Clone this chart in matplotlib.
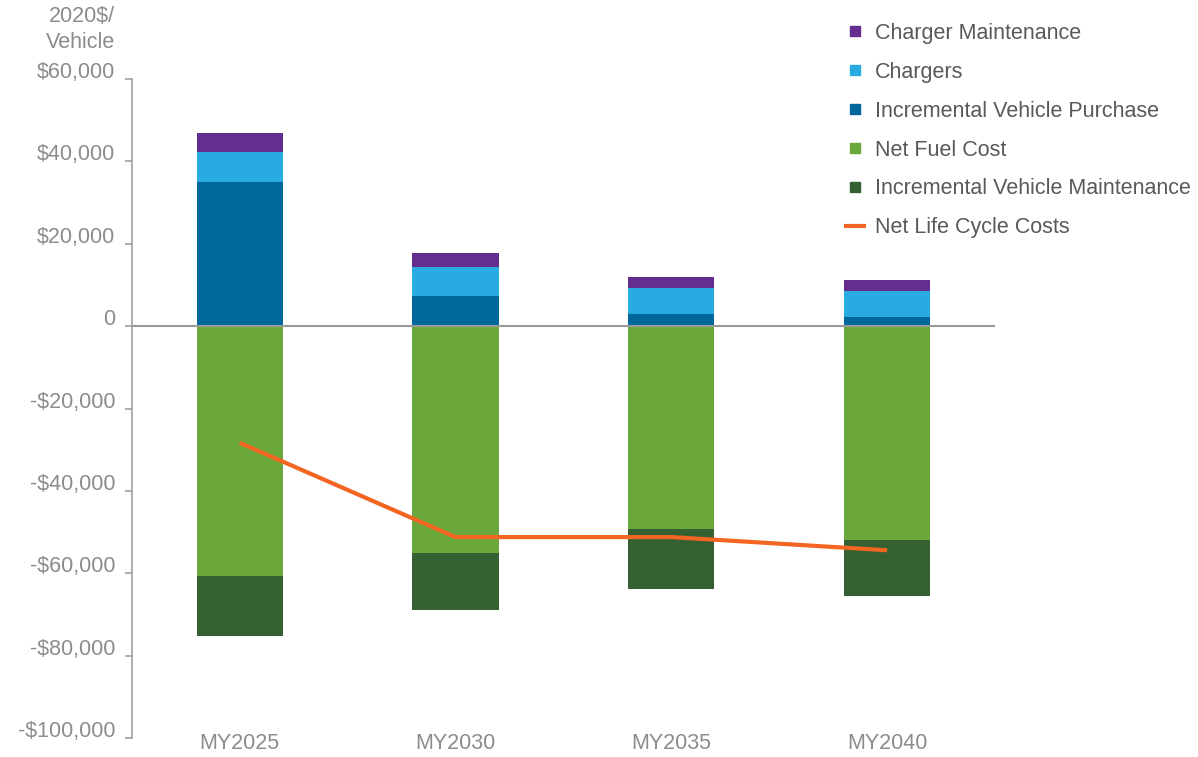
import matplotlib.pyplot as plt
import matplotlib.transforms as mtransforms
from matplotlib.lines import Line2D
import numpy as np

plt.rcParams["font.family"] = ["Liberation Sans", "DejaVu Sans"]

years = ["MY2025", "MY2030", "MY2035", "MY2040"]

# 2020$ per vehicle
vehicle_purchase = [35100, 7300, 2900, 2200]
chargers = [7100, 7100, 6400, 6300]
charger_maint = [4600, 3400, 2700, 2700]
net_fuel = [-60700, -55100, -49300, -52000]
vehicle_maint = [-14400, -13700, -14400, -13600]
net_life_cycle = [-28300, -51200, -51200, -54400]

C_CHMAINT = "#662d91"
C_CHARGERS = "#29abe2"
C_PURCHASE = "#00679a"
C_FUEL = "#6aa83b"
C_VMAINT = "#356031"
C_NET = "#f26522"
GREY = "#8c8c8c"
TEXT = "#595959"
FS = 15.5

fig = plt.figure(figsize=(11.98, 7.57), dpi=100)
ax = fig.add_axes([0.110, 0.025, 0.7206, 0.8705])

x = np.arange(len(years))
w = 0.4

ax.bar(x, vehicle_purchase, w, color=C_PURCHASE, zorder=2)
ax.bar(x, chargers, w, bottom=vehicle_purchase, color=C_CHARGERS, zorder=2)
ax.bar(x, charger_maint, w, bottom=np.add(vehicle_purchase, chargers), color=C_CHMAINT, zorder=2)
ax.bar(x, net_fuel, w, color=C_FUEL, zorder=2)
ax.bar(x, vehicle_maint, w, bottom=net_fuel, color=C_VMAINT, zorder=2)
ax.plot(x, net_life_cycle, color=C_NET, lw=3, zorder=4, solid_capstyle="butt")

ax.axhline(0, color="#999999", lw=1.5, zorder=3)

ax.set_xlim(-0.5, 3.5)
ax.set_ylim(-100000, 60000)
yt = np.arange(-100000, 60001, 20000)
ax.set_yticks(yt)
ax.set_yticklabels(["0" if v == 0 else ("-$" if v < 0 else "$") + f"{abs(v):,}" for v in yt])
ax.set_xticks(x)
ax.set_xticklabels(years)

for s in ["top", "right", "bottom"]:
    ax.spines[s].set_visible(False)
ax.spines["left"].set_color("#999999")
ax.spines["left"].set_linewidth(1.1)

ax.tick_params(axis="y", length=5, width=1.1, color="#999999", pad=7,
               labelsize=FS, labelcolor=GREY)
ax.tick_params(axis="x", length=0, pad=-3.5, labelsize=FS, labelcolor=GREY)

# tick labels sit a bit above their tick marks in the original
off = mtransforms.ScaledTranslation(0, 6.5 / 72, fig.dpi_scale_trans)
for lab in ax.get_yticklabels():
    lab.set_transform(lab.get_transform() + off)

fig.text(115 / 1198, 1 - 16 / 757, "2020$/", ha="right", va="center",
         fontsize=FS, color=GREY)
fig.text(115 / 1198, 1 - 43 / 757, "Vehicle", ha="right", va="center",
         fontsize=FS, color=GREY)

handles = [
    Line2D([], [], marker="s", ls="none", color=C_CHMAINT, markersize=7),
    Line2D([], [], marker="s", ls="none", color=C_CHARGERS, markersize=7),
    Line2D([], [], marker="s", ls="none", color=C_PURCHASE, markersize=7),
    Line2D([], [], marker="s", ls="none", color=C_FUEL, markersize=7),
    Line2D([], [], marker="s", ls="none", color=C_VMAINT, markersize=7),
    Line2D([], [], color=C_NET, lw=3),
]
labels = ["Charger Maintenance", "Chargers", "Incremental Vehicle Purchase",
          "Net Fuel Cost", "Incremental Vehicle Maintenance", "Net Life Cycle Costs"]
leg = fig.legend(handles, labels, loc="upper left", bbox_to_anchor=(846 / 1198, 1 - 23 / 757),
                 frameon=False, fontsize=FS, labelcolor=TEXT, handlelength=0.85,
                 handletextpad=0.5, labelspacing=0.83, borderaxespad=0, borderpad=0)

fig.savefig("out.png", dpi=100)
